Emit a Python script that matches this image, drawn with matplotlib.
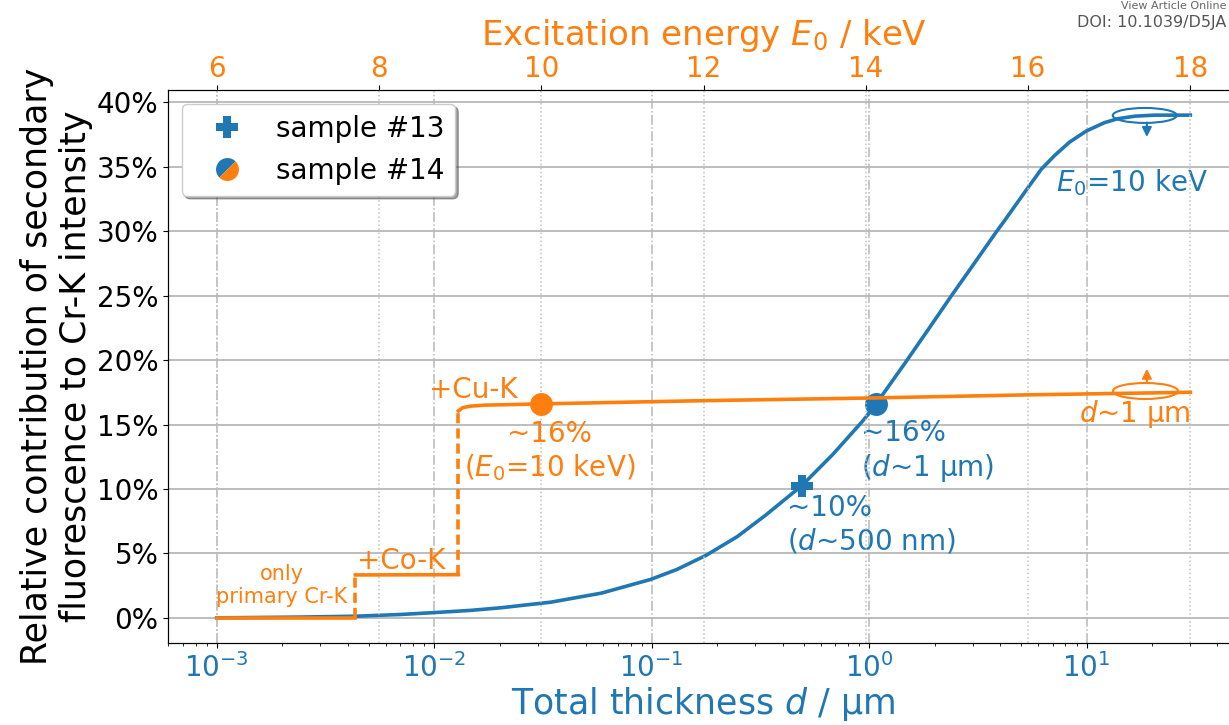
import numpy as np
import matplotlib
matplotlib.use("Agg")
import matplotlib.pyplot as plt
import matplotlib.ticker as mticker
from matplotlib.lines import Line2D
from matplotlib.markers import MarkerStyle
from matplotlib.patches import Ellipse
from matplotlib.transforms import Affine2D

# ================= DATA =================
# blue: secondary fluorescence vs. total thickness (E0 = 10 keV)
thickness_um = [0.001, 0.00156, 0.0024, 0.0044, 0.00697, 0.0098, 0.0147, 0.0202,
                0.0345, 0.0588, 0.0989, 0.1305, 0.178, 0.2475, 0.3334, 0.49,
                0.681, 0.938, 1.077, 1.468, 1.876, 2.371, 3.03, 3.83, 4.17,
                5.16, 6.19, 7.11, 8.34, 10.0, 12.1, 13.9, 16.7, 20.6, 30.0]
contrib_d = [0.0, 0.03, 0.06, 0.13, 0.26, 0.4, 0.58, 0.78,
             1.22, 1.92, 2.98, 3.75, 4.85, 6.3, 7.95, 10.25,
             12.68, 15.3, 16.6, 19.8, 22.4, 24.9, 27.45, 29.9, 30.75,
             32.95, 34.8, 35.85, 36.9, 37.78, 38.42, 38.72, 38.92, 39.0, 39.0]

# orange: secondary fluorescence vs. excitation energy (d ~ 1 um)
E_only_cr = [6.0, 7.709]
c_only_cr = [0.0, 0.0]
E_co = [7.709, 8.979]
c_co = [3.33, 3.35]
E_cu = [8.979, 9.03, 9.12, 9.3, 10.0, 12.0, 14.0, 16.0, 18.0]
c_cu = [16.05, 16.3, 16.42, 16.5, 16.6, 16.85, 17.05, 17.3, 17.5]
E_co_edge = 7.709
E_cu_edge = 8.979

# samples
s13_d, s13_c = 0.49, 10.2
s14_d, s14_c = 1.08, 16.6
s14_E, s14_cE = 10.0, 16.6

BLUE = "#1f77b4"
ORANGE = "#ff7f0e"

# ================= FIGURE =================
fig = plt.figure(figsize=(12.29, 7.25), dpi=100)
ax = fig.add_axes([168 / 1229, 1 - 643 / 725, 1071 / 1229, 553 / 725])
ax2 = ax.twiny()

# ---- grid ----
ax.set_axisbelow(True)
ax.grid(axis="y", color="#b8b8b8", lw=1.3, ls="-")
ax.grid(axis="x", which="major", color="#b8b8b8", lw=1.1, ls="-.")
ax2.grid(axis="x", color="#c0c0c0", lw=1.1, ls=":")

# ---- blue curve (bottom axis) ----
ax.semilogx(thickness_um, contrib_d, color=BLUE, lw=2.6, zorder=3)
ax.plot(s13_d, s13_c, "P", color=BLUE, ms=16, mew=0, zorder=5)
ax.plot(s14_d, s14_c, "o", color=BLUE, ms=16.5, mew=0, zorder=5)

# ---- orange curve (top axis) ----
ax2.plot(E_only_cr, c_only_cr, color=ORANGE, lw=2.6, zorder=4)
ax2.plot(E_co, c_co, color=ORANGE, lw=2.6, zorder=4)
ax2.plot(E_cu, c_cu, color=ORANGE, lw=2.6, zorder=4)
ax2.plot([E_co_edge, E_co_edge], [c_only_cr[-1], c_co[0]], color=ORANGE,
         lw=2.6, ls=(0, (2.8, 1.4)), zorder=4)
ax2.plot([E_cu_edge, E_cu_edge], [c_co[-1], c_cu[0]], color=ORANGE,
         lw=2.6, ls=(0, (2.8, 1.4)), zorder=4)
ax2.plot(s14_E, s14_cE, "o", color=ORANGE, ms=16.5, mew=0, zorder=5)

# ---- axes ----
span = np.log10(30) + 3
pad = 0.05 * span
ax.set_xlim(10 ** (-3 - pad), 10 ** (np.log10(30) + pad))
ax2.set_xlim(5.4, 18.6)
ax.set_ylim(-1.95, 40.95)

ax.set_yticks(np.arange(0, 41, 5))
ax.yaxis.set_major_formatter(mticker.PercentFormatter(xmax=100, decimals=0))
ax.xaxis.set_major_locator(mticker.LogLocator(base=10, numticks=10))
ax2.xaxis.set_major_locator(mticker.MultipleLocator(2))

ax.tick_params(axis="y", labelsize=20)
ax.tick_params(axis="x", labelsize=20, labelcolor=BLUE)
ax2.tick_params(axis="x", labelsize=20, labelcolor=ORANGE, pad=1.8)

ax.set_xlabel("Total thickness $d$ / µm", color=BLUE, fontsize=25, labelpad=2)
ax2.set_xlabel("Excitation energy $E_0$ / keV", color=ORANGE, fontsize=24.5, labelpad=7)
ax.set_ylabel("Relative contribution of secondary\nfluorescence to Cr-K intensity",
              fontsize=25, labelpad=2.5)

# ---- annotations ----
ax.text(36.3, 33.8, "$E_0$=10 keV", color=BLUE, fontsize=20, ha="right", va="center")
ax.text(0.92, 12.9, "~16%\n($d$~1 µm)", color=BLUE, fontsize=20, ha="left", va="center")
ax.text(0.42, 7.2, "~10%\n($d$~500 nm)", color=BLUE, fontsize=20, ha="left", va="center")

ax2.text(8.62, 17.7, "+Cu-K", color=ORANGE, fontsize=20, ha="left", va="center")
ax2.text(10.1, 12.9, "~16%\n($E_0$=10 keV)", color=ORANGE, fontsize=20,
         ha="center", va="center", multialignment="center")
ax2.text(7.73, 4.4, "+Co-K", color=ORANGE, fontsize=20, ha="left", va="center")
ax2.text(6.80, 2.5, "only\nprimary Cr-K", color=ORANGE, fontsize=15,
         ha="center", va="center", multialignment="center")
ax2.text(18.0, 15.8, "$d$~1 µm", color=ORANGE, fontsize=20, ha="right", va="center")

# axis markers (ellipse + arrow)
arrow_kw = dict(arrowstyle="-|>", lw=1.5, mutation_scale=14, shrinkA=0, shrinkB=0)
ax2.add_patch(Ellipse((0.912, 0.954), 0.0598, 0.0271, transform=ax.transAxes,
                      fill=False, ec=BLUE, lw=1.5, zorder=6))
ax2.annotate("", xy=(0.914, 0.915), xytext=(0.914, 0.941), xycoords="axes fraction",
             arrowprops=dict(color=BLUE, **arrow_kw))
ax2.add_patch(Ellipse((0.9127, 0.4557), 0.0607, 0.0289, transform=ax.transAxes,
                      fill=False, ec=ORANGE, lw=1.5, zorder=6))
ax2.annotate("", xy=(0.914, 0.496), xytext=(0.914, 0.470), xycoords="axes fraction",
             arrowprops=dict(color=ORANGE, **arrow_kw))

# ---- legend ----
half = MarkerStyle("o", fillstyle="top", transform=Affine2D().rotate_deg(45))
handles = [
    Line2D([], [], ls="none", marker="P", color=BLUE, ms=16, mew=0),
    Line2D([], [], ls="none", marker=half, markerfacecolor=BLUE,
           markerfacecoloralt=ORANGE, ms=16.5, mew=0),
]
leg = ax2.legend(handles, ["sample #13", "sample #14"], loc="upper left",
                 fontsize=20, shadow=True, framealpha=1,
                 handlelength=2.43, handletextpad=0.55)
leg.set_zorder(10)

# page watermark from the source page
fig.text(0.998, 0.999, "View Article Online", color="#666666", fontsize=8,
         ha="right", va="top")
fig.text(0.998, 1 - 23 / 725, "DOI: 10.1039/D5JA", color="#555555",
         fontsize=11.5, ha="right", va="center")

fig.savefig("out.png", dpi=100)
